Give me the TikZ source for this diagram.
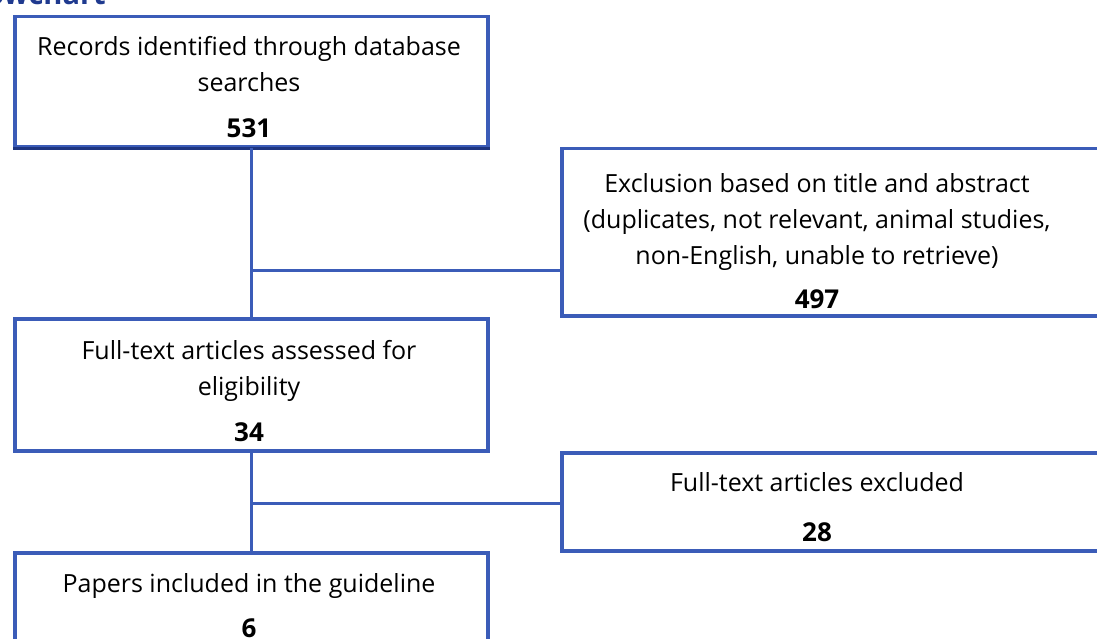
\documentclass[tikz,border=0pt]{standalone}
\usepackage{fontspec}
\setmainfont{Open Sans}
\usetikzlibrary{calc}
\definecolor{frameblue}{HTML}{3B5CB8}
\definecolor{navyedge}{HTML}{1E3580}
\definecolor{titleblue}{HTML}{1F3A8F}
\tikzset{
  stagebox/.style={draw=frameblue, line width=3.5pt, minimum width=473pt, inner sep=0pt, anchor=north west},
  link/.style={draw=frameblue, line width=3.5pt},
  label/.style={anchor=base, font=\fontsize{25}{29}\selectfont, text=black, inner sep=0pt},
  count/.style={anchor=base, font=\fontsize{26}{29}\selectfont\bfseries, text=black, inner sep=0pt},
}
\begin{document}
\begin{tikzpicture}[x=1pt,y=-1pt]
  \useasboundingbox (0,0) rectangle (1097,639);
  \clip (0,0) rectangle (1097,639);

  % heading, mostly above the page edge
  \node[anchor=base east, font=\fontsize{29}{32}\selectfont\bfseries, text=titleblue, inner sep=0pt] (title) at (106,5) {Flowchart};

  % boxes
  \node[stagebox, minimum height=130pt] (records) at (13,15) {};
  \draw[navyedge, line width=3.5pt] (records.south west) -- (records.south east);
  \node[stagebox, minimum width=560pt, minimum height=167pt] (screen) at (560,147) {};
  \node[stagebox, minimum height=132pt] (fulltext) at (13,317) {};
  \node[stagebox, minimum width=560pt, minimum height=98pt] (excluded) at (560,451) {};
  \node[stagebox, minimum height=120pt] (included) at (13,551) {};

  % texts
  \node[label] (t1a) at (249,56) {Records identified through database};
  \node[label] (t1b) at (249,92) {searches};
  \node[count] (n1) at (249,138) {531};

  \node[label] (t2a) at (817,193) {Exclusion based on title and abstract};
  \node[label] (t2b) at (817,229) {(duplicates, not relevant, animal studies,};
  \node[label] (t2c) at (817,264) {non-English, unable to retrieve)};
  \node[count] (n2) at (817,308) {497};

  \node[label] (t3a) at (249,359) {Full-text articles assessed for};
  \node[label] (t3b) at (249,395) {eligibility};
  \node[count] (n3) at (249,441) {34};

  \node[label] (t4a) at (817,491) {Full-text articles excluded};
  \node[count] (n4) at (817,541) {28};

  \node[label] (t5a) at (249,592) {Papers included in the guideline};
  \node[count] (n5) at (249,637) {6};

  % connectors
  \coordinate (j1) at ($(records.south)+(0,122)$);
  \coordinate (j2) at ($(fulltext.south)+(0,51)$);
  \path[link] (records.south) -- (fulltext.north);
  \path[link] (j1) -- (j1 -| screen.west);
  \path[link] (fulltext.south) -- (included.north);
  \path[link] (j2) -- (j2 -| excluded.west);
\end{tikzpicture}
\end{document}
